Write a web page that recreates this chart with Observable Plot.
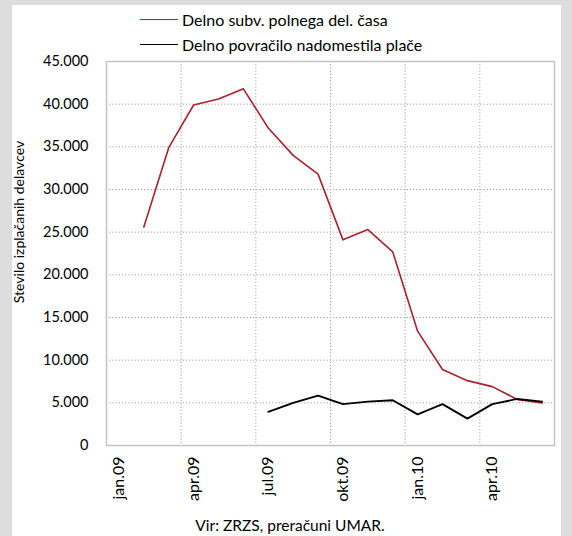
<!DOCTYPE html>
<html>
<head>
<meta charset="utf-8">
<script src="https://cdn.jsdelivr.net/npm/d3@7"></script>
<script src="https://cdn.jsdelivr.net/npm/@observablehq/plot@0.6"></script>
<style>
  body { margin: 0; background: #dddddd; font-family: Lato, "Noto Sans", sans-serif; color: #000; }
  #page { position: relative; width: 572px; height: 536px; overflow: hidden; }
  #panel { position: absolute; left: 12px; top: 5px; width: 549px; height: 531px; background: #fff; }
  #legend { position: absolute; left: 140px; top: 7px; font-size: 16px; }
  .row { display: flex; align-items: center; height: 25px; white-space: nowrap; }
  .sw { width: 38px; height: 0; border-top: 1.6px solid; margin-right: 4px; }
  #chart { position: absolute; left: 0; top: 40px; }
  #ytitle { position: absolute; left: 18px; top: 222px; transform: translate(-50%, -50%) rotate(-90deg);
            font-size: 14px; white-space: nowrap; }
  #source { position: absolute; left: 0; width: 580px; top: 516px; text-align: center; font-size: 15.5px; white-space: nowrap; }
</style>
</head>
<body>
<div id="page">
  <div id="panel"></div>
  <div id="legend"></div>
  <div id="chart"></div>
  <div id="ytitle">Stevilo izplačanih delavcev</div>
  <div id="source">Vir: ZRZS, preračuni UMAR.</div>
</div>
<script>
// Monthly categories, January 2009 – June 2010
const months = ["jan.09","feb.09","mar.09","apr.09","maj.09","jun.09","jul.09","avg.09","sep.09",
                "okt.09","nov.09","dec.09","jan.10","feb.10","mar.10","apr.10","maj.10","jun.10"];

// Number of workers paid under each scheme (null = scheme not yet in place)
const partTimeSubsidy = [null, 25600, 34900, 39900, 40600, 41800, 37200, 34000, 31800,
                         24100, 25300, 22700, 13400, 8900, 7600, 6900, 5400, 5000];
const wageCompensation = [null, null, null, null, null, null, 3950, 5000, 5850,
                          4850, 5150, 5300, 3650, 4850, 3150, 4850, 5450, 5150];

const seriesNames = ["Delno subv. polnega del. časa", "Delno povračilo nadomestila plače"];
const seriesColors = ["#a8232b", "#000000"];

const yTicks = [0, 5000, 10000, 15000, 20000, 25000, 30000, 35000, 40000, 45000];
const labelEvery = 3;

const rows = months.map((m, i) => ({i, m, a: partTimeSubsidy[i], b: wageCompensation[i]}));
const labelIdx = d3.range(0, months.length, labelEvery);
const quarterBounds = d3.range(labelEvery, months.length, labelEvery).map(i => i - 0.5);
const fmt = d => d3.format(",")(d).replace(/,/g, ".");

// Legend
const legend = document.getElementById("legend");
seriesNames.forEach((name, k) => {
  const row = document.createElement("div");
  row.className = "row";
  const sw = document.createElement("span");
  sw.className = "sw";
  sw.style.borderTopColor = seriesColors[k];
  const t = document.createElement("span");
  t.textContent = name;
  row.append(sw, t);
  legend.append(row);
});

const chart = Plot.plot({
  width: 572,
  height: 475,
  marginLeft: 106,
  marginRight: 18,
  marginTop: 21,
  marginBottom: 70,
  style: {fontFamily: "Lato, 'Noto Sans', sans-serif", fontSize: "14px", background: "transparent", color: "#000"},
  x: {domain: [-0.5, months.length - 0.5]},
  y: {domain: [0, 45000]},
  marks: [
    Plot.gridY(yTicks, {stroke: "#a0a0a0", strokeOpacity: 1, strokeDasharray: "1.2,2"}),
    Plot.ruleX(quarterBounds, {stroke: "#a0a0a0", strokeOpacity: 1, strokeDasharray: "1.2,2"}),
    Plot.frame({stroke: "#c4c4c4", strokeWidth: 1.5}),
    Plot.axisY(yTicks, {tickSize: 0, tickPadding: 18, tickFormat: fmt, label: null, fontSize: 14.5}),
    Plot.axisX(labelIdx, {tickSize: 0, tickPadding: 11, tickRotate: -90, tickFormat: i => months[i], label: null, fontSize: 16}),
    Plot.line(rows, {x: "i", y: "a", stroke: seriesColors[0], strokeWidth: 1.6}),
    Plot.line(rows, {x: "i", y: "b", stroke: seriesColors[1], strokeWidth: 1.8})
  ]
});
document.getElementById("chart").append(chart);
</script>
</body>
</html>
